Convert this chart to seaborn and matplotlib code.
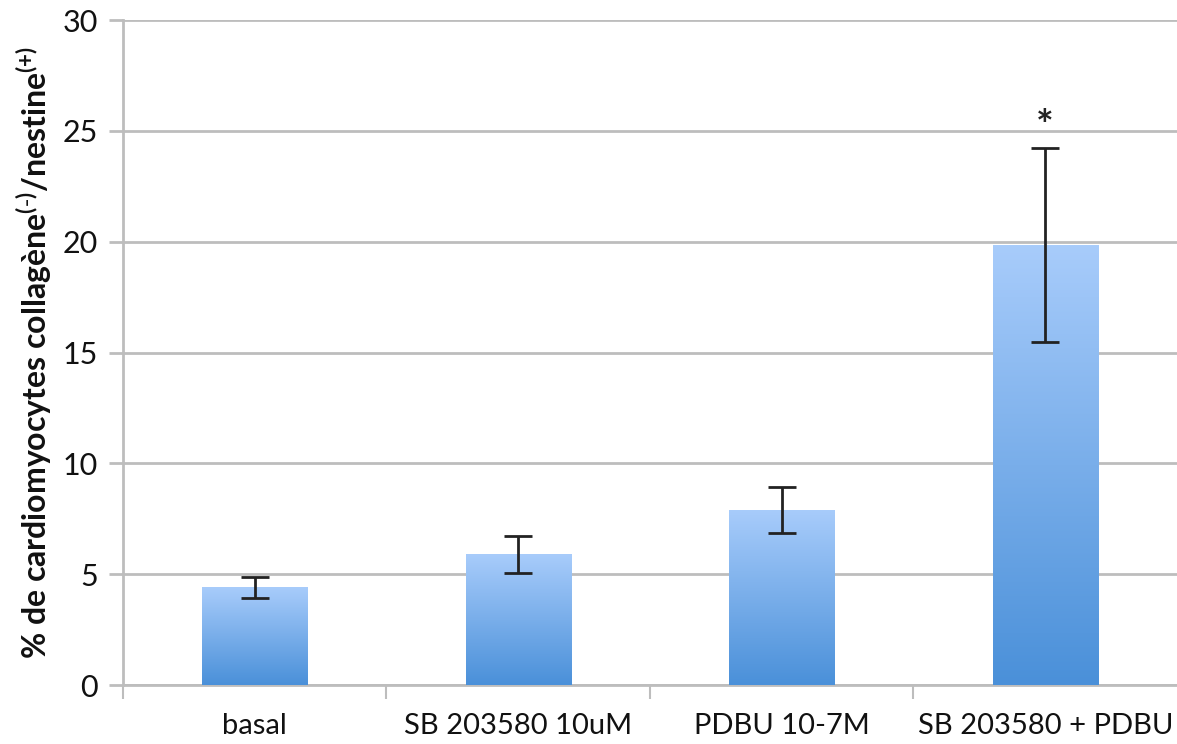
import numpy as np
import pandas as pd
import matplotlib
matplotlib.use("Agg")
import matplotlib.pyplot as plt
import seaborn as sns
from matplotlib.colors import LinearSegmentedColormap

categories = ["basal", "SB 203580 10uM", "PDBU 10-7M", "SB 203580 + PDBU"]
values = [4.4, 5.9, 7.9, 19.85]
errors = [0.47, 0.83, 1.03, 4.37]
significance = ["", "", "", "*"]
yticks = [0, 5, 10, 15, 20, 25, 30]

sns.set_theme(style="white")
plt.rcParams['font.family'] = ['Lato', 'DejaVu Sans']
plt.rcParams['mathtext.default'] = 'regular'

df = pd.DataFrame({"cat": categories, "val": values})

fig = plt.figure(figsize=(11.77, 7.44), dpi=100)
ax = fig.add_axes([0.1045, 0.0793, 0.8955, 0.8938])

sns.barplot(data=df, x="cat", y="val", ax=ax, width=0.4, color="#7fb0ec",
            errorbar=None, zorder=3)

cmap = LinearSegmentedColormap.from_list("g", ["#4a90d9", "#a8ccfb"])
grad = np.linspace(0, 1, 256).reshape(-1, 1)
for p in ax.patches:
    x0, y0 = p.get_x(), p.get_y()
    w, h = p.get_width(), p.get_height()
    p.set_facecolor("none")
    p.set_edgecolor("none")
    im = ax.imshow(grad, cmap=cmap, aspect="auto", origin="lower",
                   extent=[x0, x0 + w, y0, y0 + h], zorder=3)
    im.set_clip_path(p)

xpos = np.arange(len(categories))
ax.errorbar(xpos, values, yerr=errors, fmt="none", ecolor="#222222",
            elinewidth=2, capsize=10, capthick=2, zorder=4)

for x, v, e, s in zip(xpos, values, errors, significance):
    if s:
        ax.text(x, v + e + 0.9, s, ha="center", va="center", fontsize=30,
                fontweight="bold", color="#222222")

ax.set_xlim(-0.5, 3.5)
ax.set_ylim(0, 30)
ax.set_yticks(yticks)
ax.set_yticklabels([str(t) for t in yticks])
ax.yaxis.grid(True, color="#bdbdbd", linewidth=2, zorder=0)
ax.set_axisbelow(True)
for side in ["top", "right"]:
    ax.spines[side].set_visible(False)
ax.spines["left"].set_color("#bdbdbd")
ax.spines["left"].set_linewidth(2)
ax.spines["bottom"].set_color("#bdbdbd")
ax.spines["bottom"].set_linewidth(2)

ax.tick_params(axis="y", which="major", left=True, length=10, width=2,
               color="#bdbdbd", labelsize=22, pad=8, labelcolor="#111111")
ax.tick_params(axis="x", which="major", bottom=False, labelsize=21, pad=14,
               labelcolor="#111111")
ax.set_xticks(np.arange(-0.5, 3.5, 1.0), minor=True)
ax.tick_params(axis="x", which="minor", bottom=True, length=10, width=1.5,
               color="#bdbdbd")

ax.set_xlabel("")
ax.set_ylabel(r"% de cardiomyocytes collagène$^{(\text{-})}$/nestine$^{(+)}$",
              fontsize=23, fontweight="bold", color="#111111", labelpad=6)

fig.savefig("out.png", dpi=100)
